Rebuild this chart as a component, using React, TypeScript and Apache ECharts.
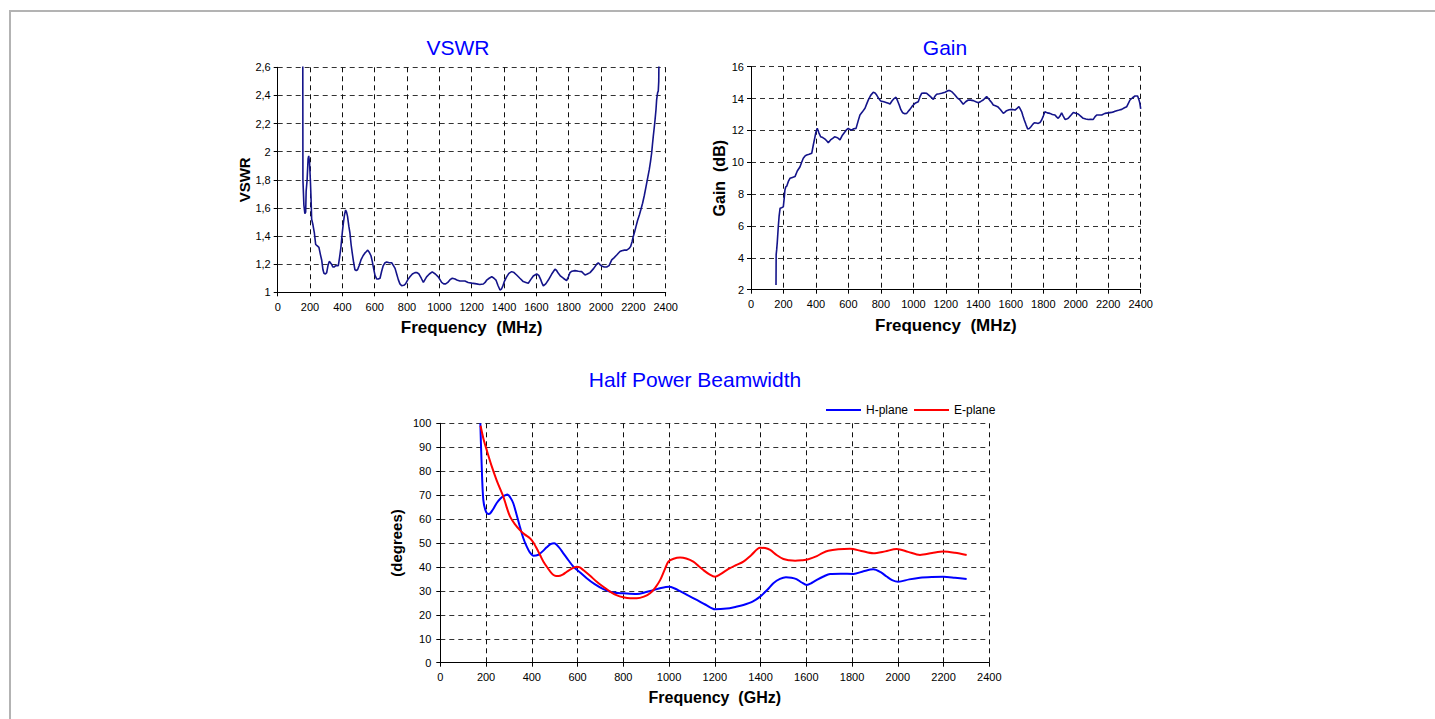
import React, { useEffect, useRef } from 'react';
import * as echarts from 'echarts';

// ---------- VSWR (MHz) ----------
const vswrFreq = [155, 156, 162, 168, 173, 176, 182, 188, 192, 197, 202, 206, 210, 218, 227, 235, 245, 255, 264, 272, 280, 286, 295, 303, 311, 319, 326, 333, 341, 348, 360, 375, 383, 391, 400, 406, 413, 420, 426, 432, 440, 447, 454, 461, 470, 478, 486, 494, 504, 515, 528, 540, 549, 557, 566, 577, 585, 593, 602, 612, 622, 633, 643, 653, 664, 674, 690, 705, 716, 726, 736, 746, 756, 767, 780, 791, 805, 818, 833, 849, 862, 874, 888, 901, 911, 921, 938, 956, 975, 993, 1004, 1014, 1027, 1039, 1052, 1066, 1080, 1097, 1112, 1127, 1142, 1158, 1178, 1200, 1230, 1250, 1272, 1283, 1293, 1308, 1324, 1338, 1350, 1362, 1375, 1385, 1391, 1403, 1416, 1430, 1447, 1462, 1478, 1498, 1519, 1535, 1550, 1565, 1581, 1602, 1615, 1627, 1635, 1643, 1658, 1674, 1695, 1715, 1725, 1736, 1750, 1767, 1787, 1798, 1808, 1820, 1839, 1860, 1880, 1901, 1915, 1932, 1955, 1973, 1983, 1995, 2004, 2020, 2035, 2050, 2066, 2080, 2097, 2117, 2128, 2145, 2159, 2172, 2183, 2192, 2199, 2208, 2216, 2226, 2237, 2247, 2257, 2268, 2278, 2288, 2298, 2306, 2313, 2318, 2323, 2329, 2334, 2340, 2344, 2350, 2354, 2357, 2360];
const vswrValue = [2.9, 1.8, 1.62, 1.56, 1.57, 1.72, 1.8, 1.95, 1.97, 1.92, 1.8, 1.68, 1.52, 1.48, 1.42, 1.34, 1.33, 1.32, 1.27, 1.23, 1.16, 1.135, 1.13, 1.14, 1.19, 1.22, 1.21, 1.2, 1.18, 1.18, 1.19, 1.19, 1.25, 1.32, 1.43, 1.49, 1.55, 1.585, 1.57, 1.54, 1.47, 1.42, 1.34, 1.28, 1.21, 1.16, 1.155, 1.16, 1.19, 1.23, 1.26, 1.28, 1.29, 1.3, 1.285, 1.26, 1.22, 1.17, 1.12, 1.095, 1.095, 1.1, 1.15, 1.19, 1.21, 1.215, 1.21, 1.21, 1.19, 1.17, 1.13, 1.09, 1.06, 1.047, 1.05, 1.06, 1.09, 1.11, 1.13, 1.14, 1.14, 1.13, 1.1, 1.07, 1.09, 1.11, 1.13, 1.145, 1.13, 1.11, 1.09, 1.07, 1.06, 1.06, 1.07, 1.09, 1.1, 1.095, 1.085, 1.08, 1.08, 1.08, 1.07, 1.065, 1.06, 1.055, 1.059, 1.07, 1.087, 1.1, 1.111, 1.1, 1.087, 1.05, 1.016, 1.025, 1.04, 1.08, 1.11, 1.135, 1.147, 1.14, 1.123, 1.1, 1.076, 1.07, 1.064, 1.09, 1.116, 1.13, 1.12, 1.09, 1.065, 1.045, 1.06, 1.087, 1.13, 1.164, 1.155, 1.135, 1.115, 1.1, 1.083, 1.11, 1.14, 1.15, 1.154, 1.15, 1.147, 1.123, 1.13, 1.14, 1.17, 1.2, 1.21, 1.195, 1.187, 1.18, 1.18, 1.19, 1.23, 1.245, 1.265, 1.29, 1.296, 1.3, 1.3, 1.31, 1.325, 1.36, 1.395, 1.43, 1.467, 1.51, 1.55, 1.59, 1.633, 1.69, 1.75, 1.81, 1.87, 1.93, 1.99, 2.05, 2.107, 2.17, 2.225, 2.3, 2.37, 2.42, 2.43, 2.5, 2.9];

// ---------- Gain (MHz / dB) ----------
const gainFreq = [154, 155, 158, 162, 168, 173, 179, 188, 199, 205, 209, 214, 220, 230, 240, 255, 271, 285, 302, 312, 322, 333, 343, 358, 374, 384, 394, 400, 408, 418, 429, 442, 456, 466, 476, 490, 503, 515, 528, 538, 548, 563, 579, 589, 599, 610, 620, 633, 647, 660, 671, 685, 702, 712, 722, 737, 753, 764, 774, 787, 799, 818, 836, 846, 856, 868, 881, 893, 903, 913, 923, 934, 947, 959, 969, 979, 995, 1010, 1020, 1030, 1040, 1051, 1066, 1082, 1102, 1123, 1133, 1143, 1160, 1174, 1195, 1215, 1225, 1240, 1256, 1270, 1287, 1307, 1322, 1338, 1352, 1369, 1385, 1400, 1415, 1430, 1451, 1462, 1472, 1482, 1492, 1505, 1519, 1537, 1554, 1564, 1574, 1590, 1605, 1626, 1640, 1650, 1658, 1667, 1675, 1683, 1694, 1704, 1714, 1724, 1735, 1745, 1757, 1769, 1780, 1790, 1800, 1810, 1825, 1841, 1856, 1872, 1882, 1892, 1903, 1913, 1923, 1934, 1944, 1954, 1970, 1985, 2000, 2015, 2030, 2046, 2062, 2077, 2092, 2108, 2118, 2129, 2145, 2160, 2180, 2200, 2221, 2237, 2252, 2268, 2283, 2300, 2314, 2324, 2334, 2350, 2365, 2381, 2390, 2395, 2400];
const gainValue = [2.3, 4.2, 4.5, 5.0, 5.95, 6.6, 7.11, 7.15, 7.2, 7.8, 8.26, 8.45, 8.5, 8.8, 8.99, 9.05, 9.1, 9.45, 9.72, 10.0, 10.25, 10.4, 10.46, 10.5, 10.56, 11.1, 11.6, 11.9, 12.13, 11.85, 11.6, 11.55, 11.45, 11.35, 11.23, 11.4, 11.5, 11.6, 11.56, 11.5, 11.4, 11.7, 11.92, 12.05, 12.13, 12.05, 12.03, 12.1, 12.13, 12.6, 12.97, 13.15, 13.39, 13.65, 13.9, 14.2, 14.39, 14.35, 14.22, 14.0, 13.85, 13.8, 13.74, 13.7, 13.66, 13.85, 14.0, 14.08, 13.85, 13.6, 13.3, 13.11, 13.05, 13.07, 13.2, 13.32, 13.55, 13.7, 13.75, 13.8, 14.1, 14.33, 14.35, 14.33, 14.15, 13.95, 14.15, 14.27, 14.3, 14.33, 14.4, 14.5, 14.5, 14.4, 14.22, 14.05, 13.91, 13.64, 13.8, 13.91, 13.9, 13.87, 13.8, 13.74, 13.82, 13.91, 14.12, 14.0, 13.87, 13.75, 13.6, 13.55, 13.49, 13.3, 13.07, 13.15, 13.24, 13.3, 13.32, 13.28, 13.4, 13.49, 13.35, 13.17, 12.9, 12.65, 12.35, 12.09, 12.12, 12.23, 12.38, 12.48, 12.47, 12.44, 12.5, 12.65, 12.9, 13.17, 13.1, 13.07, 13.0, 12.97, 12.85, 12.76, 12.9, 13.11, 12.9, 12.69, 12.72, 12.76, 12.95, 13.13, 13.08, 13.03, 12.9, 12.76, 12.72, 12.69, 12.7, 12.69, 12.85, 12.97, 12.97, 12.97, 13.07, 13.1, 13.13, 13.18, 13.24, 13.28, 13.32, 13.42, 13.49, 13.7, 13.91, 14.05, 14.16, 14.16, 13.9, 13.7, 13.35];

// ---------- Half Power Beamwidth ----------
const hFreq = [175, 180, 188, 200, 213, 230, 246, 262, 276, 293, 306, 319, 333, 348, 363, 378, 392, 407, 429, 447, 465, 482, 498, 518, 538, 560, 582, 610, 640, 675, 713, 755, 800, 859, 900, 931, 965, 1000, 1025, 1048, 1085, 1121, 1160, 1201, 1252, 1290, 1325, 1365, 1398, 1430, 1456, 1485, 1511, 1535, 1557, 1580, 1602, 1625, 1646, 1675, 1704, 1750, 1806, 1850, 1893, 1925, 1951, 1975, 2002, 2050, 2097, 2150, 2199, 2250, 2301];
const hPlane = [100, 85, 68, 63, 62.1, 64, 66.6, 68.5, 69.6, 70.3, 69, 66.6, 62, 56.8, 52, 48.5, 46, 44.7, 45.1, 46.5, 48.2, 49.5, 49.9, 48.3, 45.7, 42.8, 40.1, 37.8, 35.3, 32.8, 30.7, 29.3, 29, 28.7, 29.5, 30.3, 31.2, 31.7, 31, 29.9, 28, 26.2, 24.2, 22.3, 22.6, 23.3, 24.1, 25.5, 27.6, 30.5, 33.2, 35, 35.7, 35.5, 34.9, 33.5, 32.5, 33.4, 34.6, 36, 37.1, 37.2, 37.1, 38.2, 39, 37.8, 36, 34.5, 33.8, 34.8, 35.5, 35.8, 35.9, 35.5, 35];
const eFreq = [176, 190, 203, 225, 246, 262, 276, 290, 305, 325, 348, 370, 392, 407, 421, 436, 451, 470, 487, 500, 516, 535, 553, 575, 596, 610, 625, 655, 684, 713, 742, 770, 800, 830, 859, 890, 917, 940, 961, 980, 997, 1020, 1048, 1075, 1106, 1130, 1150, 1175, 1201, 1225, 1252, 1290, 1325, 1360, 1398, 1420, 1442, 1470, 1500, 1525, 1551, 1580, 1609, 1646, 1670, 1696, 1740, 1791, 1840, 1893, 1945, 1995, 2045, 2097, 2150, 2199, 2250, 2301];
const ePlane = [99, 93, 88.8, 82, 76.3, 72.5, 69.3, 65, 61, 58, 55.4, 53.5, 52, 50.2, 47.8, 45, 42.2, 39.5, 37.3, 36.4, 36.2, 36.8, 38, 39.3, 40.1, 39.8, 38.7, 36.3, 33.8, 31.7, 29.7, 28.2, 27.3, 26.9, 26.9, 27.6, 29, 31.4, 34.5, 38.7, 42.2, 43.4, 43.9, 43.5, 42.2, 40.3, 38.7, 37, 35.9, 37, 38.7, 40.6, 42.2, 45, 48, 47.9, 47.1, 45, 43.3, 42.8, 42.6, 42.8, 43.2, 44.5, 45.8, 46.8, 47.4, 47.6, 46.7, 45.7, 46.5, 47.5, 46.3, 45, 45.8, 46.4, 45.9, 45];

const titles = ['VSWR', 'Gain', 'Half Power Beamwidth'];
const seriesNames = ['H-plane', 'E-plane'];

const FONT = '"Liberation Sans", Arial, Helvetica, sans-serif';

const zip = (xs: number[], ys: number[]) => xs.map((x, i) => [x, ys[i]]);

const commaFmt = (v: number) => String(Math.round(v * 10) / 10).replace('.', ',');
const plainFmt = (v: number) => String(Math.round(v));

function xAxisOf(gridIndex: number, name: string, nameSize: number) {
  return {
    type: 'value',
    gridIndex,
    min: 0,
    max: 2400,
    interval: 200,
    name,
    nameLocation: 'middle',
    nameGap: 27,
    nameTextStyle: { fontWeight: 'bold', fontSize: nameSize, color: '#000', fontFamily: FONT },
    axisLine: { show: true, onZero: false, lineStyle: { color: '#000', width: 1 } },
    axisTick: { show: true, length: 4, lineStyle: { color: '#000' } },
    axisLabel: { color: '#000', fontSize: 11, margin: 9, fontFamily: FONT, formatter: plainFmt },
    splitLine: { show: true, lineStyle: { color: '#111', type: [5, 4], width: 1 } },
  };
}

function yAxisOf(gridIndex: number, min: number, max: number, interval: number, name: string, nameGap: number, nameSize: number, margin: number, fmt: (v: number) => string) {
  return {
    type: 'value',
    gridIndex,
    min,
    max,
    interval,
    name,
    nameLocation: 'middle',
    nameGap,
    nameRotate: 90,
    nameTextStyle: { fontWeight: 'bold', fontSize: nameSize, color: '#000', fontFamily: FONT },
    axisLine: { show: true, onZero: false, lineStyle: { color: '#000', width: 1 } },
    axisTick: { show: true, length: 4, lineStyle: { color: '#000' } },
    axisLabel: { color: '#000', fontSize: 11, margin, fontFamily: FONT, formatter: fmt },
    splitLine: { show: true, lineStyle: { color: '#333', type: [5, 4], width: 1 } },
  };
}

export default function App() {
  const ref = useRef<HTMLDivElement>(null);
  useEffect(() => {
    if (!ref.current) return;
    const chart = echarts.init(ref.current, null, { renderer: 'svg' });
    const titleStyle = { color: '#0000FF', fontSize: 21, fontWeight: 'normal', fontFamily: FONT };
    chart.setOption({
      animation: false,
      backgroundColor: '#fff',
      textStyle: { fontFamily: FONT },
      title: [
        { text: titles[0], left: 458, top: 37, textAlign: 'center', padding: 0, textStyle: titleStyle },
        { text: titles[1], left: 945, top: 37, textAlign: 'center', padding: 0, textStyle: titleStyle },
        { text: titles[2], left: 695, top: 369, textAlign: 'center', padding: 0, textStyle: titleStyle },
      ],
      legend: {
        data: seriesNames,
        left: 826,
        top: 404,
        icon: 'rect',
        itemWidth: 35,
        itemHeight: 2,
        itemGap: 6,
        padding: 0,
        textStyle: { fontSize: 12, color: '#000', fontFamily: FONT },
      },
      grid: [
        { left: 277.7, top: 67.3, width: 388, height: 225, containLabel: false },
        { left: 751, top: 66.7, width: 389.7, height: 223, containLabel: false },
        { left: 440.3, top: 423.3, width: 549, height: 239.4, containLabel: false },
      ],
      xAxis: [
        xAxisOf(0, 'Frequency  (MHz)', 17),
        xAxisOf(1, 'Frequency  (MHz)', 17),
        xAxisOf(2, 'Frequency  (GHz)', 16),
      ],
      yAxis: [
        yAxisOf(0, 1, 2.6, 0.2, 'VSWR', 26, 15, 7, commaFmt),
        yAxisOf(1, 2, 16, 2, 'Gain  (dB)', 20, 16, 7, plainFmt),
        yAxisOf(2, 0, 100, 10, '(degrees)', 36, 15, 9, plainFmt),
      ],
      series: [
        {
          name: 'VSWR', type: 'line', xAxisIndex: 0, yAxisIndex: 0, data: zip(vswrFreq, vswrValue),
          symbol: 'none', showSymbol: false, clip: true, lineStyle: { color: '#14148a', width: 1.6 },
        },
        {
          name: 'Gain', type: 'line', xAxisIndex: 1, yAxisIndex: 1, data: zip(gainFreq, gainValue),
          symbol: 'none', showSymbol: false, clip: true, lineStyle: { color: '#14148a', width: 1.6 },
        },
        {
          name: seriesNames[0], type: 'line', xAxisIndex: 2, yAxisIndex: 2, data: zip(hFreq, hPlane),
          symbol: 'none', showSymbol: false, smooth: 0.3, clip: true, itemStyle: { color: '#0000FF' },
          lineStyle: { color: '#0000FF', width: 2 },
        },
        {
          name: seriesNames[1], type: 'line', xAxisIndex: 2, yAxisIndex: 2, data: zip(eFreq, ePlane),
          symbol: 'none', showSymbol: false, smooth: 0.3, clip: true, itemStyle: { color: '#FF0000' },
          lineStyle: { color: '#FF0000', width: 2 },
        },
      ],
      graphic: [
        {
          type: 'polyline',
          silent: true,
          shape: { points: [[10, 719], [10, 11], [1435, 11]] },
          style: { stroke: '#b3b3b3', lineWidth: 2, fill: 'none' },
        },
      ],
    });
    return () => chart.dispose();
  }, []);
  return (
    <div
      ref={ref}
      style={{ position: 'fixed', left: 0, top: 0, width: 1435, height: 719, background: '#fff' }}
    />
  );
}
